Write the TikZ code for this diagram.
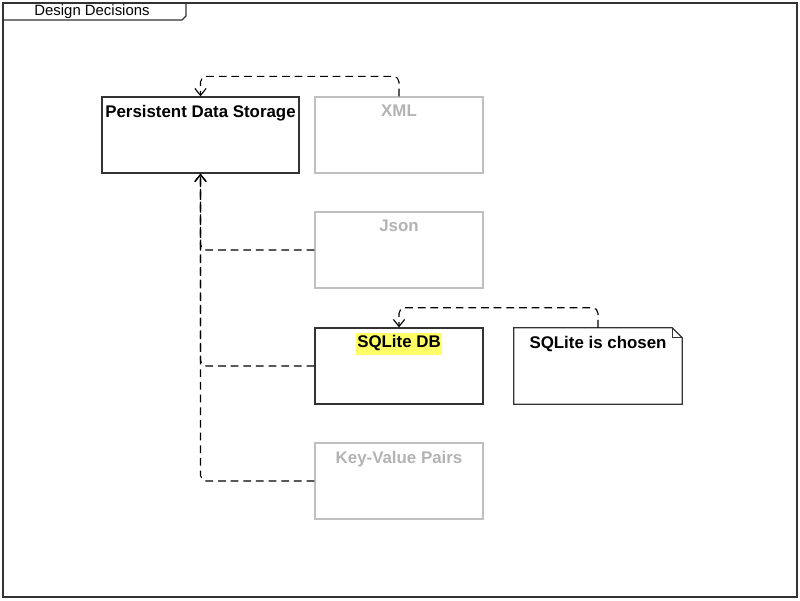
\documentclass[tikz,border=0pt]{standalone}
\usepackage{fontspec}
\setmainfont{Liberation Sans}
\usetikzlibrary{positioning,arrows.meta}
\definecolor{frameline}{HTML}{333333}
\definecolor{greyline}{HTML}{C0C0C0}
\definecolor{greytext}{HTML}{B3B3B3}
\definecolor{marker}{HTML}{FFFF66}

\begin{document}
\begin{tikzpicture}[x=0.025cm,y=-0.025cm]
\useasboundingbox (0,0) rectangle (800,600);
\tikzstyle{every node}=[font=\fontsize{12}{14}\selectfont\bfseries];
\tikzstyle{box}=[draw=frameline,line width=0.9pt,minimum width=4.2cm,minimum height=1.9cm];
\tikzstyle{greybox}=[box,draw=greyline];
\tikzstyle{title}=[label={[anchor=north,inner sep=0pt,yshift=-6pt]north:#1}];
\tikzstyle{dep}=[dashed,dash pattern=on 5.5pt off 3.5pt,line width=0.8pt,rounded corners=4pt,-{Straight Barb[length=5pt,width=8pt]}];

% frame with its tab
\draw[frameline,line width=0.9pt] (3,3) rectangle (797,597);
\draw[frameline,line width=0.9pt] (3,20) -- (182,20) -- (186,16) -- (186,3);
\node[font=\fontsize{10.6}{12}\selectfont] (frametitle) at (92,12) {Design Decisions};

% decision and options
\node[box,minimum width=4.925cm,title={Persistent Data Storage}] (pds) at (200.5,135) {};
\node[greybox,title={\color{greytext}XML}] (xml) at (399,135) {};
\node[greybox,title={\color{greytext}Json}] (json) at (399,250) {};
\node[box,label={[anchor=north,inner sep=0pt,yshift=-3.5pt]north:{\setlength\fboxsep{1pt}\colorbox{marker}{\strut SQLite DB}}}] (sqlite) at (399,366) {};
\node[greybox,title={\color{greytext}Key-Value Pairs}] (kvp) at (399,481) {};

% the note with its folded corner
\node[minimum width=4.2cm,minimum height=1.9cm,title={SQLite is chosen}] (note) at (598,366) {};
\draw[frameline,line width=0.9pt] (note.north west) -- ([xshift=-0.25cm]note.north east)
  -- ([yshift=-0.25cm]note.north east) -- (note.south east) -- (note.south west) -- cycle;
\draw[frameline,line width=0.6pt] ([xshift=-0.25cm]note.north east) |- ([yshift=-0.25cm]note.north east);

\draw[dep] (xml.north) -- ++(0,-20) -| (pds.north);
\draw[dep] (json.west) -| (pds.south);
\draw[dep] (sqlite.west) -| (pds.south);
\draw[dep] (kvp.west) -| (pds.south);
\draw[dep] (note.north) -- ++(0,-20) -| (sqlite.north);
\end{tikzpicture}
\end{document}
